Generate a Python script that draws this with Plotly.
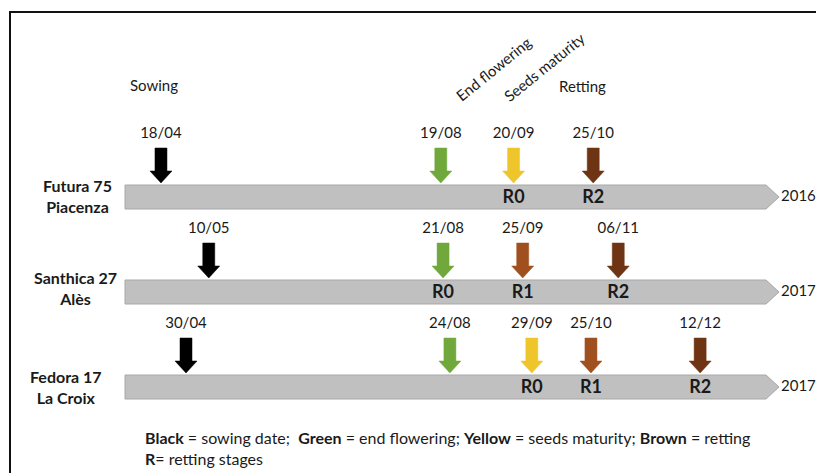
import plotly.graph_objects as go
import pandas as pd

# one timeline per cultivar / site
rows = ["Futura 75<br>Piacenza", "Santhica 27<br>Alès", "Fedora 17<br>La Croix"]
years = [2016, 2017, 2017]

# event dates (dd/mm) on each timeline
futura_dates = ["18/04", "19/08", "20/09", "25/10"]
santhica_dates = ["10/05", "21/08", "25/09", "06/11"]
fedora_dates = ["30/04", "24/08", "29/09", "25/10", "12/12"]

# event kind -> arrow colour
futura_kinds = ["sowing", "flowering", "maturity", "retting2"]
santhica_kinds = ["sowing", "flowering", "retting1", "retting2"]
fedora_kinds = ["sowing", "flowering", "maturity", "retting1", "retting2"]

# retting stage written on the bar under each event
futura_stages = ["", "", "R0", "R2"]
santhica_stages = ["", "R0", "R1", "R2"]
fedora_stages = ["", "", "R0", "R1", "R2"]

all_dates = [futura_dates, santhica_dates, fedora_dates]
all_kinds = [futura_kinds, santhica_kinds, fedora_kinds]
all_stages = [futura_stages, santhica_stages, fedora_stages]

colors = {
    "sowing": "#000000",
    "flowering": "#70a83c",
    "maturity": "#eec52b",
    "retting1": "#a0501e",
    "retting2": "#6e3413",
}

# page body has an 8px margin, so the figure is a bit smaller than the window
OFF = 8
W, H = 824 - OFF, 473 - OFF
KX = 2.275                    # px per day
X0 = 87 / KX                  # day of year at the window's left edge
KY = 95.0                     # px per timeline row
ROW0 = 197                    # window px of the first timeline
FONT = "Lato"
TXT = "#1a1a1a"


def doy(ddmm, year):
    d, m = ddmm.split("/")
    return pd.Timestamp(year=year, month=int(m), day=int(d)).dayofyear


def px2x(p):
    return p / KX


def px2y(p):
    return p / KY


fig = go.Figure()

# grey timeline bars with chevron end
bar_start, bar_end, bar_tip = X0 + px2x(125), X0 + px2x(766), X0 + px2x(779)
hh = px2y(12)
for i, yr in enumerate(years):
    fig.add_trace(go.Scatter(
        x=[bar_start, bar_end, bar_tip, bar_end, bar_start, bar_start],
        y=[i - hh, i - hh, i, i + hh, i + hh, i - hh],
        mode="lines", fill="toself", fillcolor="#c0c0c0",
        line=dict(color="#a8a8a8", width=1), hoverinfo="skip", showlegend=False))
    fig.add_trace(go.Scatter(
        x=[bar_tip + px2x(2)], y=[i], mode="text", text=[str(yr)],
        textposition="middle right",
        textfont=dict(family=FONT, size=15, color=TXT), showlegend=False))

# block arrows, date labels and stage labels
tip_gap, arr_len, head_len = px2y(14), px2y(35), px2y(12)
shaft_w, head_w = px2x(6), px2x(11)
for i, (dates, kinds, stages) in enumerate(zip(all_dates, all_kinds, all_stages)):
    for dd, kind, stage in zip(dates, kinds, stages):
        x = doy(dd, years[i])
        tip = i - tip_gap
        top = tip - arr_len
        neck = tip - head_len
        fig.add_trace(go.Scatter(
            x=[x - shaft_w, x + shaft_w, x + shaft_w, x + head_w, x, x - head_w, x - shaft_w, x - shaft_w],
            y=[top, top, neck, neck, tip, neck, neck, top],
            mode="lines", fill="toself", fillcolor=colors[kind],
            line=dict(color=colors[kind], width=0.5), hoverinfo="skip", showlegend=False))
        fig.add_trace(go.Scatter(
            x=[x], y=[top - px2y(14)], mode="text", text=[dd],
            textfont=dict(family=FONT, size=15, color=TXT), showlegend=False))
        if stage:
            fig.add_trace(go.Scatter(
                x=[x], y=[i + px2y(1)], mode="text", text=["<b>" + stage + "</b>"],
                textfont=dict(family=FONT, size=18, color=TXT), showlegend=False))


def pann(text, x, y, **kw):
    base = dict(text=text, x=(x - OFF) / W, y=1 - (y - OFF) / H, xref="paper", yref="paper",
                xanchor="center", yanchor="middle", showarrow=False,
                font=dict(family=FONT, size=15, color=TXT))
    base.update(kw)
    fig.add_annotation(**base)


# row labels
for lbl, cx, cy in zip(rows, [77, 75, 66], [196, 288, 387]):
    pann("<b>" + lbl + "</b>", cx, cy, align="center",
         font=dict(family=FONT, size=16, color=TXT))

# stage headers
pann("Sowing", 154, 85)
pann("Retting", 582, 86)
pann("End flowering", 493, 69, textangle=-39)
pann("Seeds maturity", 544, 67, textangle=-39)

# key
pann("<b>Black</b> = sowing date;  <b>Green</b> = end flowering; <b>Yellow</b> = seeds maturity; "
     "<b>Brown</b> = retting", 143, 437, xanchor="left",
     font=dict(family=FONT, size=16, color=TXT))
pann("<b>R</b>= retting stages", 143, 458, xanchor="left",
     font=dict(family=FONT, size=16, color=TXT))

# frame, cut off at right and bottom
fig.add_shape(type="rect", xref="paper", yref="paper", x0=(10 - OFF) / W, x1=1.05,
              y0=-0.05, y1=1 - (12 - OFF) / H, line=dict(color="#111111", width=2))

fig.update_layout(
    width=W, height=H, margin=dict(l=0, r=0, t=0, b=0),
    paper_bgcolor="white", plot_bgcolor="white", showlegend=False,
    xaxis=dict(range=[X0 + px2x(OFF), X0 + px2x(OFF + W)], visible=False, fixedrange=True),
    yaxis=dict(range=[px2y(OFF + H - ROW0), px2y(OFF - ROW0)], visible=False, fixedrange=True),
)

fig.write_html("out.html")
